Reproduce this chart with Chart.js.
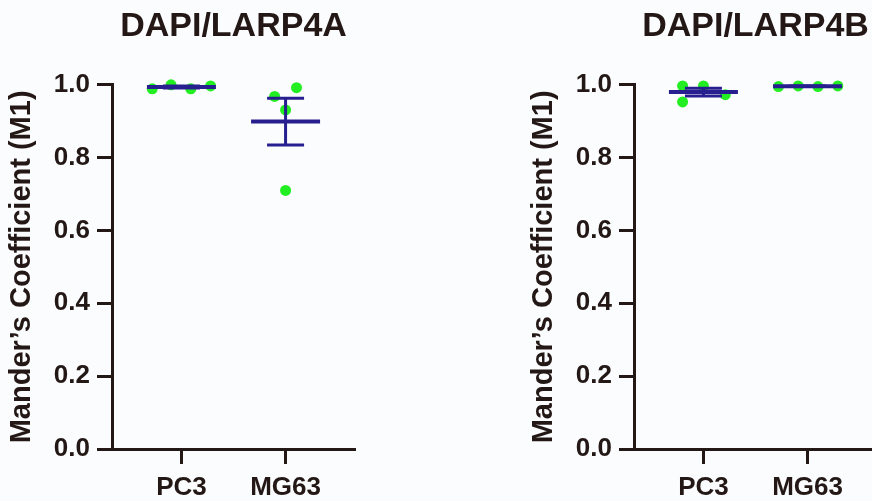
<!DOCTYPE html>
<html>
<head>
<meta charset="utf-8">
<script src="https://cdn.jsdelivr.net/npm/chart.js@4.4.1/dist/chart.umd.min.js"></script>
<style>
  html, body { margin: 0; padding: 0; background: #fbfcfe; }
  body { width: 872px; height: 501px; overflow: hidden; position: relative; }
  .panel { position: absolute; top: 0; width: 436px; height: 501px; }
</style>
</head>
<body>
<div class="panel" style="left:0"><canvas id="chartA"></canvas></div>
<div class="panel" style="left:522px"><canvas id="chartB"></canvas></div>
<script>
const categories = ['PC3', 'MG63'];
const yTicks = [0, 0.2, 0.4, 0.6, 0.8, 1.0];

// DAPI/LARP4A
const larp4aPC3 = [0.989, 1.0, 0.989, 0.997];
const larp4aMG63 = [0.968, 0.992, 0.931, 0.710];
const larp4aMeans = [0.994, 0.899];
const larp4aSems = [0.003, 0.064];
// sideways spread of the dots round each group
const larp4aPC3Jitter = [-0.28, -0.10, 0.09, 0.28];
const larp4aMG63Jitter = [-0.105, 0.105, 0, 0];

// DAPI/LARP4B
const larp4bPC3 = [0.997, 0.997, 0.973, 0.953];
const larp4bMG63 = [0.995, 0.997, 0.995, 0.997];
const larp4bMeans = [0.980, 0.996];
const larp4bSems = [0.0105, 0.001];
const larp4bPC3Jitter = [-0.20, 0, 0.21, -0.20];
const larp4bMG63Jitter = [-0.28, -0.09, 0.10, 0.29];

const INK = '#231815';
const DOT = '#22ee22';
const BAR = '#271f8f';
const FONT = "'Liberation Sans', Arial, Helvetica, sans-serif";

// mean line + SEM whiskers, placed through the chart scales
const meanSemPlugin = {
    id: 'meanSem',
    afterDatasetsDraw(chart, args, opts) {
        const { ctx, scales: { x, y } } = chart;
        ctx.save();
        ctx.strokeStyle = opts.color;
        opts.means.forEach((m, i) => {
            const cx = x.getPixelForValue(i + 1);
            const top = y.getPixelForValue(m + opts.sems[i]);
            const bot = y.getPixelForValue(m - opts.sems[i]);
            const my = y.getPixelForValue(m);
            ctx.lineWidth = 3;
            ctx.beginPath();
            ctx.moveTo(cx, top); ctx.lineTo(cx, bot);
            ctx.moveTo(cx - opts.capHalf, top); ctx.lineTo(cx + opts.capHalf, top);
            ctx.moveTo(cx - opts.capHalf, bot); ctx.lineTo(cx + opts.capHalf, bot);
            ctx.stroke();
            ctx.lineWidth = 4;
            ctx.beginPath();
            ctx.moveTo(cx - opts.meanHalf, my); ctx.lineTo(cx + opts.meanHalf, my);
            ctx.stroke();
        });
        ctx.restore();
    }
};

function points(values, jitter, pos) {
    return values.map((v, k) => ({ x: pos + jitter[k], y: v }));
}

function makeChart(id, title, groups, jitters, means, sems) {
    const datasets = groups.map((vals, i) => ({
        label: categories[i],
        data: points(vals, jitters[i], i + 1),
        backgroundColor: DOT,
        borderWidth: 0,
        pointRadius: 5.5,
        clip: false
    }));

    return new Chart(document.getElementById(id), {
        type: 'scatter',
        data: { datasets },
        plugins: [meanSemPlugin],
        options: {
            responsive: true,
            maintainAspectRatio: false,
            animation: false,
            layout: { padding: { left: 0, right: 81, top: 0, bottom: 0 } },
            plugins: {
                legend: { display: false },
                tooltip: { enabled: false },
                title: {
                    display: true,
                    text: title,
                    fullSize: false,
                    color: INK,
                    font: { family: FONT, size: 34, weight: 'bold' },
                    padding: { top: 6, bottom: 38 }
                },
                meanSem: { means, sems, color: BAR, meanHalf: 34.5, capHalf: 18.5 }
            },
            scales: {
                x: {
                    type: 'linear',
                    min: 1 / 3,
                    max: 8 / 3,
                    afterBuildTicks: s => { s.ticks = categories.map((c, i) => ({ value: i + 1 })); },
                    ticks: {
                        callback: v => categories[v - 1],
                        autoSkip: false,
                        maxRotation: 0,
                        padding: 8,
                        color: INK,
                        font: { family: FONT, size: 26, weight: 'bold' }
                    },
                    grid: { drawOnChartArea: false, drawTicks: true, tickLength: 15, tickWidth: 3, tickColor: INK },
                    border: { display: true, width: 3, color: INK },
                    afterFit: s => { s.height = 52; }
                },
                y: {
                    min: 0,
                    max: 1,
                    afterBuildTicks: s => { s.ticks = yTicks.map(v => ({ value: v })); },
                    ticks: {
                        callback: v => v.toFixed(1),
                        padding: 7,
                        color: INK,
                        font: { family: FONT, size: 26, weight: 'bold' }
                    },
                    grid: { drawOnChartArea: false, drawTicks: true, tickLength: 15, tickWidth: 3, tickColor: INK },
                    border: { display: true, width: 3, color: INK },
                    title: {
                        display: true,
                        text: 'Mander\u2019s Coefficient (M1)',
                        color: INK,
                        font: { family: FONT, size: 29, weight: 'bold' },
                        padding: { top: 5, bottom: 0 }
                    },
                    afterFit: s => { s.width = 112; }
                }
            }
        }
    });
}

makeChart('chartA', 'DAPI/LARP4A',
    [larp4aPC3, larp4aMG63], [larp4aPC3Jitter, larp4aMG63Jitter], larp4aMeans, larp4aSems);
makeChart('chartB', 'DAPI/LARP4B',
    [larp4bPC3, larp4bMG63], [larp4bPC3Jitter, larp4bMG63Jitter], larp4bMeans, larp4bSems);
</script>
</body>
</html>
